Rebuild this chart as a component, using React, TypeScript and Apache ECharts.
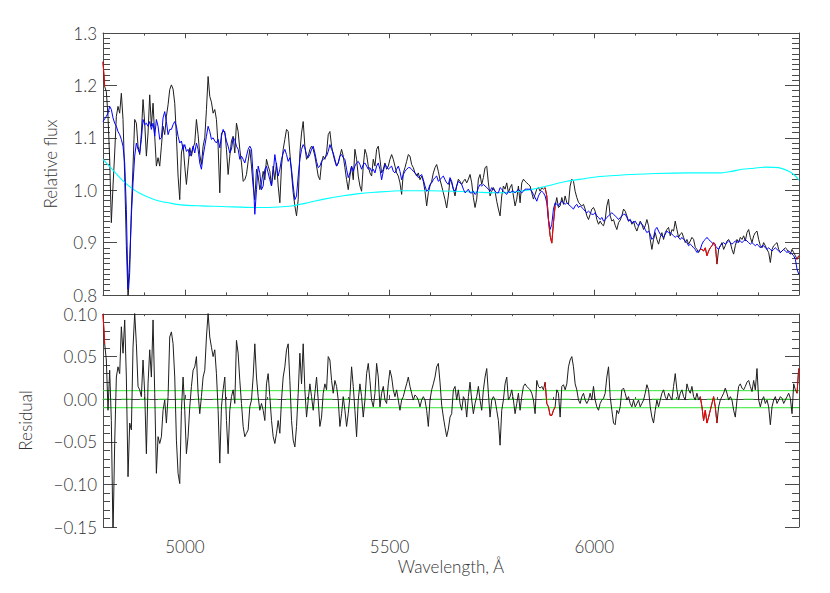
import React, { useEffect, useRef } from 'react';
import * as echarts from 'echarts';

// Spectrum sampling grid (Angstrom)
const WAVE_START = 4800;
const WAVE_STEP = 4.075;
const X_MIN = 4800;
const X_MAX = 6500;
const X_MINOR_STEP = 100;
const xMajorTicks = [5000, 5500, 6000];

const fluxAxis = { min: 0.8, max: 1.3, interval: 0.1 };
const residAxis = { min: -0.15, max: 0.1, interval: 0.05 };

const residualBands = [-0.01, 0.01];
const residualZero = [0];

// masked (excluded) wavelength regions drawn in red
const maskRanges = [
  [4800, 4805],
  [5878, 5906],
  [6257, 6301],
  [6494, 6500],
];

// observed relative flux
const flux = [
  1.245, 1.198, 1.188, 1.141, 1.059, 0.938, 1.008, 1.071, 1.141, 1.160,
  1.147, 1.185, 1.135, 1.027, 0.894, 0.795, 0.843, 0.963, 1.046, 1.135,
  1.128, 1.084, 1.068, 1.109, 1.173, 1.128, 1.065, 1.109, 1.182, 1.122,
  1.166, 1.103, 1.046, 1.062, 1.046, 1.084, 1.122, 1.106, 1.141, 1.163,
  1.192, 1.201, 1.193, 1.166, 1.103, 1.027, 0.982, 1.071, 1.087, 1.046,
  1.011, 1.046, 1.081, 1.065, 1.081, 1.090, 1.135, 1.106, 1.068, 1.049,
  1.084, 1.100, 1.154, 1.217, 1.179, 1.168, 1.147, 1.154, 1.135, 1.084,
  0.995, 1.109, 1.112, 1.112, 1.078, 1.030, 1.065, 1.094, 1.103, 1.071,
  1.128, 1.112, 1.078, 1.052, 1.017, 1.020, 1.030, 1.055, 1.078, 1.046,
  1.008, 0.982, 1.040, 1.027, 1.001, 1.014, 1.036, 1.020, 1.059, 1.046,
  1.036, 1.008, 1.046,
  1.020, 1.052, 1.008, 0.976, 1.046, 1.078, 1.097,
  1.116, 1.112, 1.071, 1.033, 0.995, 0.970, 0.951, 0.982, 1.071, 1.109,
  1.131, 1.084, 1.059, 1.065, 1.078, 1.084, 1.078, 1.065, 1.046, 1.027,
  1.020, 1.052, 1.065, 1.059, 1.071, 1.106, 1.112, 1.084, 1.068, 1.055,
  1.046, 1.052, 1.065, 1.078, 1.065, 1.043, 1.020, 1.001, 1.027, 1.046,
  1.020, 1.078, 1.059, 1.027, 1.008, 0.998, 1.046, 1.078, 1.068, 1.046,
  1.033, 1.027, 1.059, 1.046, 1.078, 1.084, 1.059, 1.033, 1.040, 1.052,
  1.040, 1.046, 1.059, 1.068, 1.059, 1.046, 1.033, 1.027, 1.014, 0.992,
  1.033, 1.043, 1.055, 1.068, 1.065, 1.049, 1.043, 1.033, 1.027, 1.033,
  1.020, 1.027, 1.017, 0.998, 0.970, 0.995, 1.008, 1.017, 1.033, 1.043,
  1.049, 1.036, 1.020, 1.008, 0.995, 0.982, 0.966, 0.989,
  1.021, 1.014, 1.002, 0.989, 1.008, 1.021, 1.017, 1.011, 1.017, 1.021, 1.014, 1.021,
  1.030, 1.014, 0.986, 0.967, 0.983, 1.021, 1.030, 1.011, 1.024, 1.043,
  1.046, 1.014, 0.989, 0.998, 1.005, 0.998, 0.979, 0.964, 0.951, 0.989,
  1.008, 1.002, 1.014, 0.995, 1.005, 1.011, 0.989, 0.970, 0.983, 1.008,
  0.976, 1.014, 1.021, 1.017, 1.014, 1.011, 1.008, 0.995, 0.983, 0.992,
  1.002, 1.005, 0.998, 1.005, 1.002, 1.005, 0.989, 0.944, 0.913, 0.899,
  0.938, 0.970, 0.986, 0.967, 0.970, 0.986, 0.973, 0.989, 0.976, 0.973,
  1.008, 1.021, 1.017, 0.998, 0.986, 0.977, 0.973, 0.970, 0.973, 0.964,
  0.951, 0.944, 0.954, 0.964, 0.967, 0.960, 0.944, 0.935, 0.941, 0.935,
  0.932, 0.944, 0.970, 0.983, 0.951, 0.941, 0.944, 0.933, 0.925, 0.938,
  0.943, 0.951, 0.964,
  0.960, 0.951, 0.941, 0.944, 0.935, 0.941, 0.929,
  0.922, 0.932, 0.941, 0.935, 0.925, 0.932, 0.944, 0.932, 0.906, 0.887,
  0.906, 0.919, 0.906, 0.897, 0.910, 0.919, 0.906, 0.919, 0.925, 0.929,
  0.913, 0.925, 0.922, 0.941, 0.925, 0.910, 0.916, 0.919, 0.910, 0.900,
  0.906, 0.897, 0.903, 0.910, 0.906, 0.891, 0.887, 0.881, 0.887, 0.887,
  0.884, 0.890, 0.875, 0.884, 0.890, 0.894, 0.900, 0.897, 0.859, 0.887,
  0.894, 0.900, 0.887, 0.894, 0.903, 0.906, 0.900, 0.887, 0.878, 0.894,
  0.906, 0.900, 0.910, 0.906, 0.913, 0.903, 0.919, 0.925, 0.910, 0.900,
  0.913, 0.919, 0.922, 0.906, 0.894, 0.890, 0.900, 0.894, 0.887, 0.881,
  0.862, 0.887, 0.894, 0.897, 0.900, 0.887, 0.881, 0.884, 0.887, 0.890,
  0.887, 0.881, 0.878, 0.887, 0.881, 0.875, 0.868, 0.875,
];

// best-fit model
const model = [
  1.131, 1.136, 1.141, 1.147, 1.160, 1.154, 1.138, 1.128, 1.122, 1.112,
  1.106, 1.097, 1.084, 1.052, 0.963, 0.811, 0.868, 0.951, 1.014, 1.065,
  1.090, 1.078, 1.071, 1.097, 1.135, 1.125, 1.128, 1.122, 1.131, 1.116,
  1.128, 1.103, 1.135, 1.122, 1.097, 1.100, 1.138, 1.150, 1.131, 1.106,
  1.116, 1.116, 1.125, 1.131, 1.122, 1.103, 1.090, 1.094, 1.078, 1.087,
  1.074, 1.078, 1.065, 1.071, 1.084, 1.071, 1.090, 1.078, 1.052, 1.040,
  1.065, 1.084, 1.103, 1.122, 1.112, 1.097, 1.100, 1.094, 1.090, 1.097,
  1.081, 1.103, 1.116, 1.109, 1.094, 1.084, 1.071, 1.078, 1.100, 1.097,
  1.084, 1.078, 1.059, 1.065, 1.059, 1.052, 1.065, 1.078, 1.084, 1.078,
  1.027, 0.954, 1.001, 1.046, 1.033, 1.001, 1.008, 1.040, 1.046, 1.033,
  1.020, 1.008, 1.033,
  1.068, 1.046, 1.027, 1.040, 1.059, 1.071, 1.078,
  1.068, 1.055, 1.062, 1.040, 1.008, 0.982, 0.989, 1.027, 1.059, 1.078,
  1.087, 1.081, 1.068, 1.062, 1.068, 1.078, 1.084, 1.071, 1.055, 1.043,
  1.046, 1.055, 1.059, 1.062, 1.065, 1.074, 1.087, 1.078, 1.071, 1.059,
  1.046, 1.052, 1.065, 1.068, 1.062, 1.059, 1.040, 1.024, 1.033, 1.046,
  1.036, 1.046, 1.052, 1.055, 1.049, 1.040, 1.049, 1.052, 1.046, 1.040,
  1.043, 1.036, 1.040, 1.033, 1.046, 1.052, 1.040, 1.020, 1.036, 1.049,
  1.046, 1.040, 1.043, 1.046, 1.036, 1.033, 1.040, 1.046, 1.036, 1.020,
  1.030, 1.036, 1.040, 1.043, 1.043, 1.040, 1.036, 1.033, 1.030, 1.024,
  1.027, 1.030, 1.020, 1.008, 0.998, 1.001, 1.011, 1.014, 1.020, 1.024,
  1.027, 1.017, 1.020, 1.024, 1.027, 1.020, 1.014, 1.011,
  1.024, 1.017, 1.002, 0.998, 1.008, 1.017, 1.014, 1.011, 1.002, 0.995, 0.998, 1.002,
  0.995, 0.995, 0.998, 0.992, 0.995, 1.005, 1.011, 1.008, 1.011, 1.008,
  1.005, 1.002, 0.998, 1.005, 1.002, 0.998, 0.995, 0.995, 1.005, 1.002,
  0.998, 0.995, 0.992, 0.998, 0.995, 0.998, 0.998, 0.995, 0.998, 1.002,
  0.998, 0.995, 0.998, 1.002, 1.002, 1.002, 1.002, 0.998, 0.992, 0.986,
  0.979, 0.989, 0.995, 0.998, 0.995, 0.989, 0.976, 0.944, 0.925, 0.935,
  0.964, 0.976, 0.973, 0.970, 0.976, 0.979, 0.976, 0.973, 0.976, 0.973,
  0.970, 0.967, 0.964, 0.970, 0.973, 0.967, 0.970, 0.967, 0.964, 0.960,
  0.957, 0.960, 0.957, 0.954, 0.954, 0.957, 0.951, 0.948, 0.944, 0.948,
  0.941, 0.944, 0.948, 0.951, 0.954, 0.957, 0.954, 0.951, 0.948, 0.944,
  0.948, 0.951, 0.954,
  0.954, 0.948, 0.941, 0.944, 0.938, 0.938, 0.941,
  0.935, 0.932, 0.938, 0.935, 0.932, 0.925, 0.919, 0.922, 0.916, 0.906,
  0.910, 0.925, 0.929, 0.922, 0.916, 0.913, 0.910, 0.916, 0.922, 0.919,
  0.919, 0.916, 0.913, 0.910, 0.913, 0.910, 0.906, 0.910, 0.906, 0.903,
  0.900, 0.894, 0.897, 0.894, 0.890, 0.887, 0.881, 0.884, 0.887, 0.897,
  0.903, 0.906, 0.910, 0.906, 0.903, 0.900, 0.897, 0.894, 0.890, 0.887,
  0.894, 0.897, 0.900, 0.897, 0.900, 0.903, 0.900, 0.897, 0.900, 0.903,
  0.900, 0.903, 0.903, 0.900, 0.903, 0.906, 0.903, 0.900, 0.897, 0.900,
  0.897, 0.894, 0.897, 0.894, 0.890, 0.894, 0.894, 0.890, 0.887, 0.890,
  0.887, 0.884, 0.887, 0.890, 0.887, 0.884, 0.881, 0.884, 0.887, 0.884,
  0.881, 0.884, 0.881, 0.878, 0.875, 0.868, 0.849, 0.840,
];

// residual (observed - model)
const residual = [
  0.100, 0.065, 0.046, -0.013, 0.034, -0.025, -0.160, -0.052, 0.026, 0.038,
  0.030, 0.085, 0.054, 0.093, 0.026, -0.091, -0.028, -0.036, 0.061, 0.101,
  0.065, 0.015, 0.011, 0.003, 0.046, 0.007, -0.064, 0.018, 0.058, 0.026,
  0.093, 0.007, -0.087, -0.044, -0.052, -0.044, -0.013, -0.001, -0.028, 0.003,
  0.073, 0.079, 0.065, 0.026, -0.048, -0.087, -0.099, -0.013, 0.026, -0.013,
  -0.064, -0.044, -0.009, 0.015, 0.034, 0.038, 0.050, 0.007, -0.017, 0.003,
  0.026, 0.034, 0.073, 0.101, 0.073, 0.061, 0.050, 0.058, 0.030, -0.013,
  -0.075, -0.009, 0.011, 0.026, -0.025, -0.064, -0.013, 0.003, 0.011, -0.005,
  0.069, 0.054, 0.022, -0.005, -0.032, -0.044, -0.040, -0.036, -0.009, -0.001,
  0.026, 0.065, 0.026, 0.003, -0.013, -0.005, -0.013, -0.025, 0.018, 0.030,
  0.003, -0.025, -0.044, -0.052, -0.040, -0.025,
  -0.040, -0.001, 0.026, 0.038,
  0.058, 0.065, 0.022, -0.025, -0.048, -0.056, -0.032, 0.007, 0.054, 0.018,
  0.065, 0.011, -0.021, -0.001, 0.018, 0.003, -0.013, 0.007, 0.026, -0.001,
  -0.032, -0.021, 0.007, 0.018, 0.011, 0.050, 0.046, 0.022, 0.007, 0.022,
  0.015, -0.001, -0.032, -0.017, 0.003, -0.013, -0.032, -0.017, 0.003, 0.038,
  0.015, -0.013, -0.044, -0.001, 0.018, 0.003, -0.021, -0.001, 0.030, 0.042,
  0.022, -0.001, -0.009, 0.007, 0.042, 0.026, -0.009, 0.007, 0.015, -0.001,
  -0.005, 0.018, 0.034, 0.026, 0.011, 0.003, 0.011, -0.001, -0.013, -0.001,
  0.003, 0.011, 0.018, 0.026, 0.015, 0.007, -0.001, 0.005, 0.003, -0.001,
  -0.009, -0.001, 0.003, -0.001, -0.013, -0.032, -0.001, 0.011, 0.018, 0.026,
  0.038, 0.042,
  0.020, -0.007, -0.021, -0.033, -0.044, -0.035, -0.021, -0.017,
  0.011, 0.015, -0.001, 0.011, -0.005, -0.013, 0.003, -0.001, -0.021, 0.003,
  0.020, -0.001, -0.017, -0.005, 0.003, 0.015, -0.001, -0.013, 0.011, 0.026,
  0.036, 0.007, -0.021, -0.001, 0.003, -0.001, -0.013, -0.025, -0.054, -0.013,
  -0.001, 0.018, 0.026, -0.001, 0.003, 0.011, -0.001, -0.017, -0.005, 0.007,
  -0.013, 0.003, 0.015, 0.018, 0.015, 0.013, 0.011, 0.007, -0.001, -0.017,
  0.022, 0.015, 0.013, 0.015, 0.011, 0.020, -0.005, -0.009, -0.019, -0.019,
  -0.013, -0.009, 0.011, 0.007, -0.021, 0.015, 0.017, 0.011, 0.018, 0.038,
  0.046, 0.050, 0.038, 0.018, 0.011, -0.001, -0.005, 0.003, 0.007, -0.001,
  -0.005, -0.001, 0.007, -0.001, 0.015, -0.001, -0.009, -0.013, -0.005, -0.001,
  0.001, 0.007, 0.026, 0.038, 0.003, -0.013, -0.028, -0.030, -0.013, -0.017,
  -0.009, 0.011, 0.013, 0.007, -0.001, 0.003, -0.005, -0.009, -0.001, -0.009,
  -0.005, -0.001, -0.009, -0.005, -0.001, 0.007, 0.017, 0.011, -0.009, -0.021,
  -0.028, -0.013, -0.001, -0.009, -0.001, 0.007, 0.011, 0.003, -0.001, 0.007,
  0.003, -0.001, 0.015, 0.030, 0.011, -0.001, 0.007, 0.011, 0.003, -0.001,
  0.018, 0.011, 0.007, 0.015, 0.003, -0.001, 0.007, -0.001, 0.003, -0.009,
  -0.025, -0.013, -0.028, -0.021, -0.013, -0.005, 0.003, -0.009, -0.028, -0.009,
  -0.001, 0.003, 0.007, 0.013, 0.007, -0.001, 0.003, -0.001, -0.013, -0.021,
  -0.001, 0.015, 0.018, 0.013, 0.011, 0.015, 0.020, 0.022, 0.015, 0.009,
  0.022, 0.011, 0.036, -0.001, -0.009, -0.001, 0.003, -0.005, -0.001, -0.009,
  -0.030, -0.009, -0.001, 0.003, -0.005, -0.001, 0.003, 0.001, -0.005, -0.001,
  0.003, 0.007, 0.001, -0.017, 0.018, 0.011, 0.007, 0.036,
];

// multiplicative continuum polynomial [wavelength, value]
const continuum = [
  [4800, 1.059], [4825, 1.038], [4850, 1.017], [4870, 1.004], [4890, 0.994],
  [4910, 0.987], [4930, 0.981], [4960, 0.976], [4990, 0.972], [5040, 0.970],
  [5090, 0.969], [5175, 0.967], [5230, 0.968], [5260, 0.970], [5300, 0.976],
  [5340, 0.983], [5383, 0.989], [5420, 0.993], [5464, 0.996], [5530, 0.999],
  [5600, 0.999], [5660, 0.998], [5720, 0.996], [5770, 0.995], [5810, 0.997],
  [5851, 1.002], [5884, 1.008], [5933, 1.017], [5975, 1.022], [6014, 1.026],
  [6050, 1.028], [6088, 1.030], [6150, 1.032], [6230, 1.033], [6304, 1.033],
  [6335, 1.036], [6361, 1.040], [6390, 1.042], [6418, 1.044], [6450, 1.043],
  [6475, 1.036], [6490, 1.028], [6500, 1.019],
];

const FONT = "Lato, 'DejaVu Sans', sans-serif";
const FONT_WEIGHT = 300;
const FRAME = '#4a4a4a';
const TEXT = '#333';
const GREEN = '#2ee82e';

const wavelengths = flux.map((_, i) => +(WAVE_START + i * WAVE_STEP).toFixed(3));
const inMask = (w: number) => maskRanges.some(([a, b]) => w >= a && w <= b);
const pairs = (vals: number[]) => wavelengths.map((w, i) => [w, vals[i]]);
const maskedPairs = (vals: number[]) =>
  wavelengths.map((w, i) => [w, inMask(w) ? vals[i] : null]);
const hLine = (v: number) => [[X_MIN, v], [X_MAX, v]];

function xAxesFor(gridIndex: number, position: 'top' | 'bottom', majorLen: number, minorLen: number, labels: boolean, name?: string) {
  const tickStyle = { color: FRAME, width: 1 };
  return [
    {
      type: 'value', gridIndex, position, min: X_MIN, max: X_MAX, interval: X_MINOR_STEP,
      axisLine: { show: true, lineStyle: { color: FRAME, width: 1 } },
      axisTick: { show: true, inside: true, length: minorLen, lineStyle: tickStyle },
      axisLabel: { show: false },
      splitLine: { show: false },
    },
    {
      type: 'value', gridIndex, position, min: X_MIN, max: X_MAX,
      axisLine: { show: false },
      axisTick: { show: true, inside: true, length: majorLen, customValues: xMajorTicks, lineStyle: tickStyle },
      axisLabel: {
        show: labels, customValues: xMajorTicks, margin: 11,
        fontFamily: FONT, fontWeight: FONT_WEIGHT, fontSize: 17, color: TEXT,
        formatter: (v: number) => String(Math.round(v)),
      },
      splitLine: { show: false },
      name: name || '',
      nameLocation: 'middle',
      nameGap: 31,
      nameTextStyle: { fontFamily: FONT, fontWeight: FONT_WEIGHT, fontSize: 17, color: TEXT },
    },
  ];
}

function yAxesFor(gridIndex: number, range: { min: number; max: number; interval: number }, minorSplit: number, decimals: number, name: string, nameGap: number) {
  const tickStyle = { color: FRAME, width: 1 };
  const base = {
    type: 'value', gridIndex, min: range.min, max: range.max, interval: range.interval,
    axisLine: { show: true, lineStyle: { color: FRAME, width: 1 } },
    axisTick: { show: true, inside: true, length: 14, lineStyle: tickStyle },
    minorTick: { show: true, splitNumber: minorSplit, length: 7, lineStyle: tickStyle },
    splitLine: { show: false },
  };
  return [
    {
      ...base, position: 'left',
      axisLabel: {
        show: true, margin: 6, fontFamily: FONT, fontWeight: FONT_WEIGHT, fontSize: 17, color: TEXT,
        formatter: (v: number) => (v < -1e-9 ? '\u2212' : '') + Math.abs(v).toFixed(decimals),
      },
      name, nameLocation: 'middle', nameGap, nameRotate: 90,
      nameTextStyle: { fontFamily: FONT, fontWeight: FONT_WEIGHT, fontSize: 17, color: TEXT },
    },
    { ...base, position: 'right', axisLabel: { show: false } },
  ];
}

export default function App() {
  const ref = useRef<HTMLDivElement>(null);
  useEffect(() => {
    if (!ref.current) return;
    const chart = echarts.init(ref.current, undefined, { renderer: 'svg' });
    const line = (color: string, width = 1) => ({ color, width });
    const plain = { showSymbol: false, symbol: 'none', clip: true };
    const option: any = {
      animation: false,
      backgroundColor: '#ffffff',
      grid: [
        { left: 103, top: 33, width: 696, height: 262 },
        { left: 103, top: 314, width: 696, height: 213 },
      ],
      xAxis: [
        ...xAxesFor(0, 'bottom', 5.3, 2.6, false),
        ...xAxesFor(0, 'top', 5.3, 2.6, false),
        ...xAxesFor(1, 'bottom', 4.3, 2.2, true, 'Wavelength, \u00C5'),
        ...xAxesFor(1, 'top', 4.3, 2.2, false),
      ],
      yAxis: [
        ...yAxesFor(0, fluxAxis, 10, 1, 'Relative flux', 44),
        ...yAxesFor(1, residAxis, 5, 2, 'Residual', 69),
      ],
      series: [
        { ...plain, name: 'flux', type: 'line', xAxisIndex: 0, yAxisIndex: 0, data: pairs(flux),
          lineStyle: line('#1e1e1e'), z: 2 },
        { ...plain, name: 'continuum', type: 'line', xAxisIndex: 0, yAxisIndex: 0, data: continuum,
          smooth: 0.3, lineStyle: line('#00ffff', 1.1), z: 3 },
        { ...plain, name: 'model', type: 'line', xAxisIndex: 0, yAxisIndex: 0, data: pairs(model),
          lineStyle: line('#0000ff'), z: 4 },
        { ...plain, name: 'masked flux', type: 'line', xAxisIndex: 0, yAxisIndex: 0, data: maskedPairs(flux),
          connectNulls: false, lineStyle: line('#ff0000'), z: 5 },
        ...residualBands.map((v, k) => ({
          ...plain, name: 'band' + k, type: 'line', xAxisIndex: 4, yAxisIndex: 2, data: hLine(v),
          lineStyle: { color: GREEN, width: 1, type: 'solid' }, z: 1,
        })),
        ...residualZero.map((v, k) => ({
          ...plain, name: 'zero' + k, type: 'line', xAxisIndex: 4, yAxisIndex: 2, data: hLine(v),
          lineStyle: { color: GREEN, width: 1, type: [10, 8.3] }, z: 1,
        })),
        { ...plain, name: 'residual', type: 'line', xAxisIndex: 4, yAxisIndex: 2, data: pairs(residual),
          lineStyle: line('#1e1e1e'), z: 2 },
        { ...plain, name: 'masked residual', type: 'line', xAxisIndex: 4, yAxisIndex: 2, data: maskedPairs(residual),
          connectNulls: false, lineStyle: line('#ff0000'), z: 3 },
      ],
    };
    chart.setOption(option);
    return () => chart.dispose();
  }, []);
  return (
    <div
      ref={ref}
      style={{ position: 'fixed', left: 0, top: 0, width: 830, height: 593, background: '#ffffff' }}
    />
  );
}
